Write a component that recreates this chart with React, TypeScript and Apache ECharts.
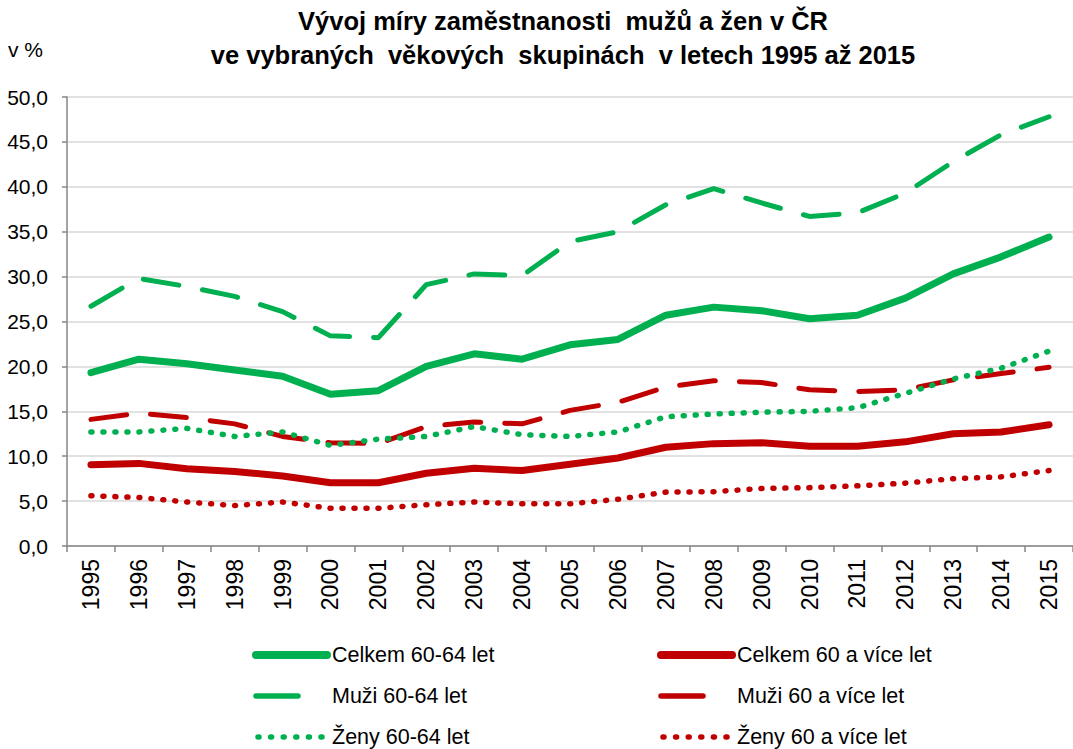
import React, { useEffect, useRef } from 'react';
import * as echarts from 'echarts';

const years = ['1995', '1996', '1997', '1998', '1999', '2000', '2001', '2002', '2003', '2004', '2005', '2006', '2007', '2008', '2009', '2010', '2011', '2012', '2013', '2014', '2015'];
const celkem6064 = [19.3, 20.8, 20.3, 19.6, 18.9, 16.9, 17.3, 20.0, 21.4, 20.8, 22.4, 23.0, 25.7, 26.6, 26.2, 25.3, 25.7, 27.6, 30.3, 32.2, 34.4];
const muzi6064 = [26.7, 29.8, 28.9, 27.8, 26.1, 23.4, 23.2, 29.1, 30.3, 30.1, 33.9, 35.0, 38.0, 39.8, 38.2, 36.7, 37.1, 39.3, 42.8, 45.8, 47.8];
const zeny6064 = [12.7, 12.7, 13.1, 12.2, 12.7, 11.2, 11.9, 12.2, 13.3, 12.4, 12.2, 12.7, 14.4, 14.7, 14.9, 15.0, 15.4, 17.0, 18.6, 19.8, 21.7];
const celkem60 = [9.05, 9.2, 8.6, 8.3, 7.8, 7.05, 7.05, 8.1, 8.65, 8.4, 9.1, 9.8, 11.0, 11.4, 11.5, 11.1, 11.1, 11.6, 12.5, 12.7, 13.5];
const muzi60 = [14.1, 14.8, 14.3, 13.6, 12.2, 11.5, 11.4, 13.3, 13.8, 13.6, 15.1, 16.0, 17.7, 18.4, 18.2, 17.4, 17.2, 17.4, 18.5, 19.2, 19.9];
const zeny60 = [5.6, 5.4, 4.9, 4.5, 4.9, 4.2, 4.2, 4.6, 4.9, 4.7, 4.7, 5.2, 6.0, 6.05, 6.4, 6.5, 6.7, 7.0, 7.5, 7.7, 8.4];

const GREEN = '#00B050';
const RED = '#C00000';
const FONT = 'Liberation Sans, Arial, sans-serif';

export default function App() {
  const ref = useRef<HTMLDivElement>(null);
  useEffect(() => {
    const chart = echarts.init(ref.current!, undefined, { renderer: 'svg' });
    const solid = (color: string) => ({ color, width: 7, type: 'solid', cap: 'round', join: 'round' });
    const dashed = (color: string) => ({ color, width: 5, type: [36, 24], cap: 'round', join: 'round' });
    const dotted = (color: string) => ({ color, width: 5.5, type: [1, 11], cap: 'round', join: 'round' });
    const mk = (name: string, data: number[], ls: any) => ({
      name, type: 'line', data, symbol: 'none', showSymbol: false, lineStyle: ls, itemStyle: { color: ls.color },
    });
    const legendText = { fontFamily: FONT, fontSize: 21.5, color: '#000', lineHeight: 20 };
    const legendBase = {
      orient: 'vertical', top: 644, height: 150, itemWidth: 71, itemHeight: 8, itemGap: 19, selectedMode: false, padding: 0,
      textStyle: legendText, itemStyle: { opacity: 0, borderWidth: 0 },
    };
    const legendItems = (names: string[]) => [
      { name: names[0], lineStyle: { width: 8 } },
      { name: names[1], lineStyle: { width: 5.5, type: [42, 100] } },
      { name: names[2], lineStyle: { width: 5.5, type: [1, 11.6], dashOffset: -2 } },
    ];
    chart.setOption({
      animation: false,
      backgroundColor: '#fff',
      title: {
        text: 'Vývoj míry zaměstnanosti  mužů a žen v ČR\nve vybraných  věkových  skupinách  v letech 1995 až 2015',
        left: 563, top: 4, padding: 0, textAlign: 'center',
        textStyle: { fontFamily: FONT, fontSize: 25.5, fontWeight: 'bold', color: '#000', lineHeight: 34 },
      },
      graphic: [
        { type: 'text', left: 8, top: 39, style: { text: 'v %', fontFamily: FONT, fontSize: 21, fill: '#000' } },
      ],
      legend: [
        { ...legendBase, left: 252, data: legendItems(['Celkem 60-64 let', 'Muži 60-64 let', 'Ženy 60-64 let']) },
        { ...legendBase, left: 657, data: legendItems(['Celkem 60 a více let', 'Muži 60 a více let', 'Ženy 60 a více let']) },
      ],
      grid: { left: 67, right: -8, top: 97, bottom: 203, containLabel: false },
      xAxis: {
        type: 'category', data: years, boundaryGap: true,
        axisLine: { lineStyle: { color: '#868686', width: 1.5 } },
        axisTick: { show: true, length: 6, lineStyle: { color: '#868686', width: 1.5 } },
        axisLabel: { rotate: 90, margin: 13, fontFamily: FONT, fontSize: 23, color: '#000', interval: 0 },
      },
      yAxis: {
        type: 'value', min: 0, max: 50, interval: 5,
        axisLine: { show: true, lineStyle: { color: '#868686', width: 1.5 } },
        axisTick: { show: true, length: 5, lineStyle: { color: '#868686', width: 1.5 } },
        splitLine: { lineStyle: { color: '#D9D9D9', width: 1.5 } },
        axisLabel: {
          margin: 19, fontFamily: FONT, fontSize: 21, color: '#000',
          formatter: (v: number) => v.toFixed(1).replace('.', ','),
        },
      },
      series: [
        mk('Ženy 60 a více let', zeny60, dotted(RED)),
        mk('Muži 60 a více let', muzi60, dashed(RED)),
        mk('Celkem 60 a více let', celkem60, solid(RED)),
        mk('Ženy 60-64 let', zeny6064, dotted(GREEN)),
        mk('Muži 60-64 let', muzi6064, dashed(GREEN)),
        mk('Celkem 60-64 let', celkem6064, solid(GREEN)),
      ],
    });
    return () => chart.dispose();
  }, []);
  return (
    <div
      ref={ref}
      style={{ position: 'absolute', left: 0, top: 0, width: 1073, height: 749, overflow: 'hidden' }}
    />
  );
}
